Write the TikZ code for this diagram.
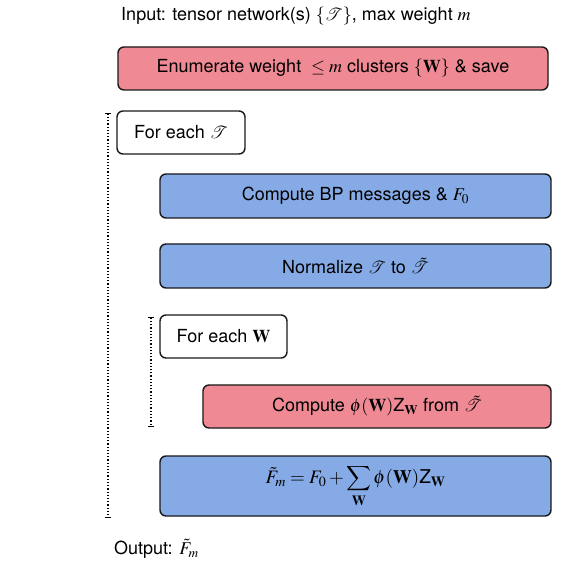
\documentclass[tikz,border=0pt]{standalone}
\usepackage{amsmath}
\usepackage{mathptmx}
\usepackage{mathrsfs}
\usepackage[no-math]{fontspec}
\setmainfont{TeX Gyre Heros}
\usetikzlibrary{arrows.meta}
\DeclareSymbolFont{cmlargesymbols}{OMX}{cmex}{m}{n}
\DeclareMathSymbol{\cmsum}{\mathop}{cmlargesymbols}{"50}
\definecolor{boxpink}{RGB}{239,137,147}
\definecolor{boxblue}{RGB}{134,170,229}
\definecolor{edge}{RGB}{25,25,25}
\newcommand{\tnet}{\mathscr{T}}
\newcommand{\zw}{\textnormal{Z}_{\mathbf{W}}}
\tikzset{
  stepbox/.style={draw=edge, line width=1.4pt, rounded corners=6pt, align=center, font=\fontsize{18}{21}\selectfont, inner sep=0pt},
  pinkbox/.style={stepbox, fill=boxpink},
  bluebox/.style={stepbox, fill=boxblue},
  loopbox/.style={stepbox, fill=white},
  plain/.style={font=\fontsize{18}{21}\selectfont, inner sep=0pt},
  loopline/.style={line width=1.2pt, dotted, {Bar[width=6pt,line width=1.2pt]}-{Bar[width=6pt,line width=1.2pt]}}
}
\begin{document}
\begin{tikzpicture}[x=1pt,y=-1pt]
\useasboundingbox (0,0) rectangle (587,572);
\node[plain, anchor=west] (input) at (121,16) {Input: tensor network(s) $\{\tnet\}$, max weight $m$};
\node[pinkbox, minimum width=430pt, minimum height=43pt] (enum) at (333,68.5) {Enumerate weight \ $\leq m$ clusters $\{\mathbf{W}\}$ \& save};
\node[loopbox, minimum width=128pt, minimum height=43pt] (eachT) at (181,132.5) {For each $\tnet$};
\node[bluebox, minimum width=391pt, minimum height=44pt] (bp) at (355.5,196) {Compute BP messages \& $F_0$};
\node[bluebox, minimum width=391pt, minimum height=44pt] (norm) at (355.5,266) {Normalize $\tnet$ to $\tilde{\tnet}$};
\node[loopbox, minimum width=127pt, minimum height=43pt] (eachW) at (223.5,336.5) {For each $\mathbf{W}$};
\node[pinkbox, minimum width=348pt, minimum height=43pt] (phi) at (377,406.5) {Compute $\phi(\mathbf{W})\zw$ from $\tilde{\tnet}$};
\node[bluebox, minimum width=391pt, minimum height=60pt, font=\fontsize{19}{23}\selectfont] (sum) at (355.5,486) {$\displaystyle \tilde{F}_m = F_0 + \cmsum_{\mathbf{W}} \phi(\mathbf{W})\zw$};
\node[plain, anchor=west] (output) at (114,549) {Output: $\tilde{F}_m$};
\coordinate (outerTop) at (108,113);
\coordinate (outerBot) at (108,518);
\coordinate (innerTop) at (151,317);
\coordinate (innerBot) at (151,427);
\draw[loopline] (outerTop) -- (outerBot);
\draw[loopline] (innerTop) -- (innerBot);
\end{tikzpicture}
\end{document}
